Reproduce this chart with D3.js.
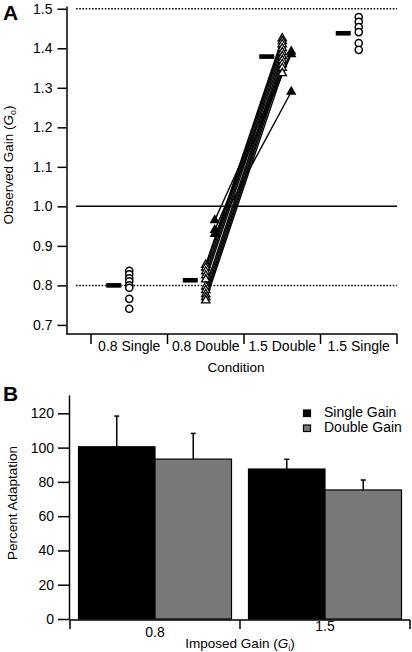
<!DOCTYPE html>
<html><head><meta charset="utf-8">
<script src="https://cdn.jsdelivr.net/npm/d3@7"></script>
<style>body{margin:0;background:#fff} svg{display:block} text{font-family:"Liberation Sans",Arial,Helvetica,sans-serif}</style>
</head><body><svg id="c" width="412" height="652"></svg>
<script>
// ---------- Panel A data ----------
const conditions = ["0.8 Single","0.8 Double","1.5 Double","1.5 Single"];
const yTicksA = [0.7,0.8,0.9,1.0,1.1,1.2,1.3,1.4,1.5];
const refDotted = [0.8,1.5];
const refSolid = [1.0];
const meanGain = [0.80, 0.813, 1.379, 1.438];
const single08 = [0.837,0.828,0.818,0.810,0.800,0.794,0.766,0.741];
const single15 = [1.479,1.467,1.454,1.441,1.413,1.396];
const doubleOpen08 = [0.852,0.845,0.835,0.825,0.815,0.797,0.788,0.778,0.770,0.762];
const doubleOpen15 = [1.425,1.418,1.410,1.400,1.390,1.380,1.370,1.360,1.350,1.337];
const doubleFilled08 = [0.965,0.940,0.930];
const doubleFilled15 = [1.392,1.385,1.290];

// ---------- Panel B data ----------
const groupsB = ["0.8","1.5"];
const seriesB = ["Single Gain","Double Gain"];
const adaptSingle = [100.5, 87.5];
const adaptDouble = [93.3, 75.3];
const errSingle = [17.9, 5.7];
const errDouble = [15.0, 5.8];
const yTicksB = [0,20,40,60,80,100,120];
const colorsB = ["#000000","#787878"];

const svg = d3.select("#c");
const FS = 14, FT = 13.5;

// ================= Panel A =================
const yA = d3.scaleLinear().domain([0.677,1.507]).range([334,6]);
const xA = d3.scaleBand().domain(conditions).range([91,397]);
const bw = xA.bandwidth();
const cx = c => xA(c) + bw/2;
const lineL = 76, lineR = 397;

svg.append("text").attr("x",3).attr("y",20).attr("font-size",21).attr("font-weight","bold").text("A");

// reference lines
svg.selectAll(".refd").data(refDotted).join("line")
  .attr("x1",lineL).attr("x2",lineR).attr("y1",d=>yA(d)).attr("y2",d=>yA(d))
  .attr("stroke","#000").attr("stroke-width",1.5).attr("stroke-dasharray","1.6,1.6");
svg.selectAll(".refs").data(refSolid).join("line")
  .attr("x1",lineL).attr("x2",lineR).attr("y1",d=>yA(d)).attr("y2",d=>yA(d))
  .attr("stroke","#000").attr("stroke-width",1.5);

// y axis
const gyA = svg.append("g").attr("transform","translate(66.5,0)")
  .call(d3.axisLeft(yA).tickValues(yTicksA).tickSize(9).tickSizeOuter(0).tickPadding(5).tickFormat(d3.format(".1f")));
gyA.selectAll("text").attr("font-size",FS).attr("font-family","Liberation Sans, Arial, sans-serif");
gyA.selectAll("line,path").attr("stroke-width",1.5);

// x axis (custom with band boundaries)
const gx = svg.append("g");
gx.append("line").attr("x1",66.5).attr("x2",lineR).attr("y1",334).attr("y2",334).attr("stroke","#000").attr("stroke-width",1.5);
const bounds = conditions.map(c=>xA(c)).concat([xA(conditions[3])+bw]);
gx.selectAll(".bt").data(bounds).join("line")
  .attr("x1",d=>d).attr("x2",d=>d).attr("y1",334).attr("y2",344).attr("stroke","#000").attr("stroke-width",1.5);
gx.selectAll(".bl").data(conditions).join("text")
  .attr("x",d=>cx(d)).attr("y",351).attr("text-anchor","middle").attr("font-size",FS).text(d=>d);
svg.append("text").attr("x",(bounds[0]+bounds[4])/2-8).attr("y",372).attr("text-anchor","middle").attr("font-size",FT).text("Condition");

// y label
const yl = svg.append("text").attr("transform","translate(13,165) rotate(-90)").attr("text-anchor","middle").attr("font-size",FT);
yl.append("tspan").text("Observed Gain (");
yl.append("tspan").attr("font-style","italic").text("G");
yl.append("tspan").attr("font-size",9).attr("dy",3).text("o");
yl.append("tspan").attr("dy",-3).text(")");

// subject lines
const pairsOpen = doubleOpen08.map((v,i)=>[v,doubleOpen15[i]]);
const pairsFilled = doubleFilled08.map((v,i)=>[v,doubleFilled15[i]]);
const fOff = 9;
svg.selectAll(".lo").data(pairsOpen).join("line")
  .attr("x1",cx(conditions[1])).attr("x2",cx(conditions[2]))
  .attr("y1",d=>yA(d[0])).attr("y2",d=>yA(d[1])).attr("stroke","#000").attr("stroke-width",1.4);
svg.selectAll(".lf").data(pairsFilled).join("line")
  .attr("x1",cx(conditions[1])+fOff).attr("x2",cx(conditions[2])+fOff)
  .attr("y1",d=>yA(d[0])).attr("y2",d=>yA(d[1])).attr("stroke","#000").attr("stroke-width",1.4);

// mean bars
svg.selectAll(".mb").data(meanGain).join("rect")
  .attr("x",(d,i)=>cx(conditions[i])-23).attr("width",15)
  .attr("y",d=>yA(d)-2.3).attr("height",4.6).attr("fill","#000");

// circles
const circ = d3.symbol().type(d3.symbolCircle).size(40);
svg.selectAll(".c1").data(single08).join("path").attr("d",circ)
  .attr("transform",d=>`translate(${cx(conditions[0])},${yA(d)})`).attr("fill","#fff").attr("stroke","#000").attr("stroke-width",1.5);
svg.selectAll(".c2").data(single15).join("path").attr("d",circ)
  .attr("transform",d=>`translate(${cx(conditions[3])},${yA(d)})`).attr("fill","#fff").attr("stroke","#000").attr("stroke-width",1.5);

// triangles
const triO = d3.symbol().type(d3.symbolTriangle).size(30);
const triF = d3.symbol().type(d3.symbolTriangle).size(46);
[[doubleOpen08,1],[doubleOpen15,2]].forEach(([arr,ci])=>{
  svg.append("g").selectAll("path").data(arr).join("path").attr("d",triO)
    .attr("transform",d=>`translate(${cx(conditions[ci])},${yA(d)})`).attr("fill","#fff").attr("stroke","#000").attr("stroke-width",1.3);
});
[[doubleFilled08,1],[doubleFilled15,2]].forEach(([arr,ci])=>{
  svg.append("g").selectAll("path").data(arr).join("path").attr("d",triF)
    .attr("transform",d=>`translate(${cx(conditions[ci])+fOff},${yA(d)})`).attr("fill","#000");
});

// ================= Panel B =================
svg.append("text").attr("x",3).attr("y",401).attr("font-size",21).attr("font-weight","bold").text("B");
const yB = d3.scaleLinear().domain([0,130.7]).range([619,395]);
const xB = d3.scaleBand().domain(groupsB).range([70,410]).paddingInner(0.1).paddingOuter(0.05);
const xSub = d3.scaleBand().domain(seriesB).range([0,xB.bandwidth()]);

const gyB = svg.append("g").attr("transform","translate(69,0)")
  .call(d3.axisLeft(yB).tickValues(yTicksB).tickSize(11).tickSizeOuter(0).tickPadding(4));
gyB.selectAll("text").attr("font-size",FS).attr("font-family","Liberation Sans, Arial, sans-serif");
gyB.selectAll("line,path").attr("stroke-width",1.5);

const barData = [];
groupsB.forEach((g,i)=>{
  barData.push({g,s:seriesB[0],v:adaptSingle[i],e:errSingle[i],c:colorsB[0]});
  barData.push({g,s:seriesB[1],v:adaptDouble[i],e:errDouble[i],c:colorsB[1]});
});
// error bars
const eg = svg.append("g").selectAll("g").data(barData).join("g");
eg.append("line").attr("x1",d=>xB(d.g)+xSub(d.s)+xSub.bandwidth()/2).attr("x2",d=>xB(d.g)+xSub(d.s)+xSub.bandwidth()/2)
  .attr("y1",d=>yB(d.v)).attr("y2",d=>yB(d.v+d.e)).attr("stroke","#000").attr("stroke-width",1.5);
eg.append("line").attr("x1",d=>xB(d.g)+xSub(d.s)+xSub.bandwidth()/2-2.5).attr("x2",d=>xB(d.g)+xSub(d.s)+xSub.bandwidth()/2+2.5)
  .attr("y1",d=>yB(d.v+d.e)).attr("y2",d=>yB(d.v+d.e)).attr("stroke","#000").attr("stroke-width",1.5);
svg.append("g").selectAll("rect").data(barData).join("rect")
  .attr("x",d=>xB(d.g)+xSub(d.s)).attr("width",xSub.bandwidth())
  .attr("y",d=>yB(d.v)).attr("height",d=>yB(0)-yB(d.v))
  .attr("fill",d=>d.c).attr("stroke","#000").attr("stroke-width",1.2);

// x axis B
const xb0 = xB.range()[0], xb1 = xB.range()[1];
const mid = (xB(groupsB[0])+xB.bandwidth()+xB(groupsB[1]))/2;
svg.append("line").attr("x1",69).attr("x2",xb1).attr("y1",620).attr("y2",620).attr("stroke","#000").attr("stroke-width",1.5);
svg.selectAll(".xbt").data([xb0,mid,xb1]).join("line")
  .attr("x1",d=>d).attr("x2",d=>d).attr("y1",620).attr("y2",629).attr("stroke","#000").attr("stroke-width",1.5);
const labY = [637,631];
svg.selectAll(".xbl").data(groupsB).join("text")
  .attr("x",d=>xB(d)+xB.bandwidth()/2).attr("y",(d,i)=>labY[i]).attr("text-anchor","middle").attr("font-size",FS).text(d=>d);
const xl = svg.append("text").attr("x",mid).attr("y",648).attr("text-anchor","middle").attr("font-size",FT);
xl.append("tspan").text("Imposed Gain (");
xl.append("tspan").attr("font-style","italic").text("G");
xl.append("tspan").attr("font-size",9).attr("dy",3).text("i");
xl.append("tspan").attr("dy",-3).text(")");

svg.append("text").attr("transform","translate(17,503) rotate(-90)").attr("text-anchor","middle").attr("font-size",FT).text("Percent Adaptation");

// legend
const lg = svg.append("g").selectAll("g").data(seriesB).join("g")
  .attr("transform",(d,i)=>`translate(303.5,${410+i*15})`);
lg.append("rect").attr("width",7).attr("height",6.5).attr("fill",(d,i)=>colorsB[i]).attr("stroke","#000").attr("stroke-width",1.2);
lg.append("text").attr("x",20.5).attr("y",7).attr("font-size",FS).text(d=>d);
</script></body></html>
